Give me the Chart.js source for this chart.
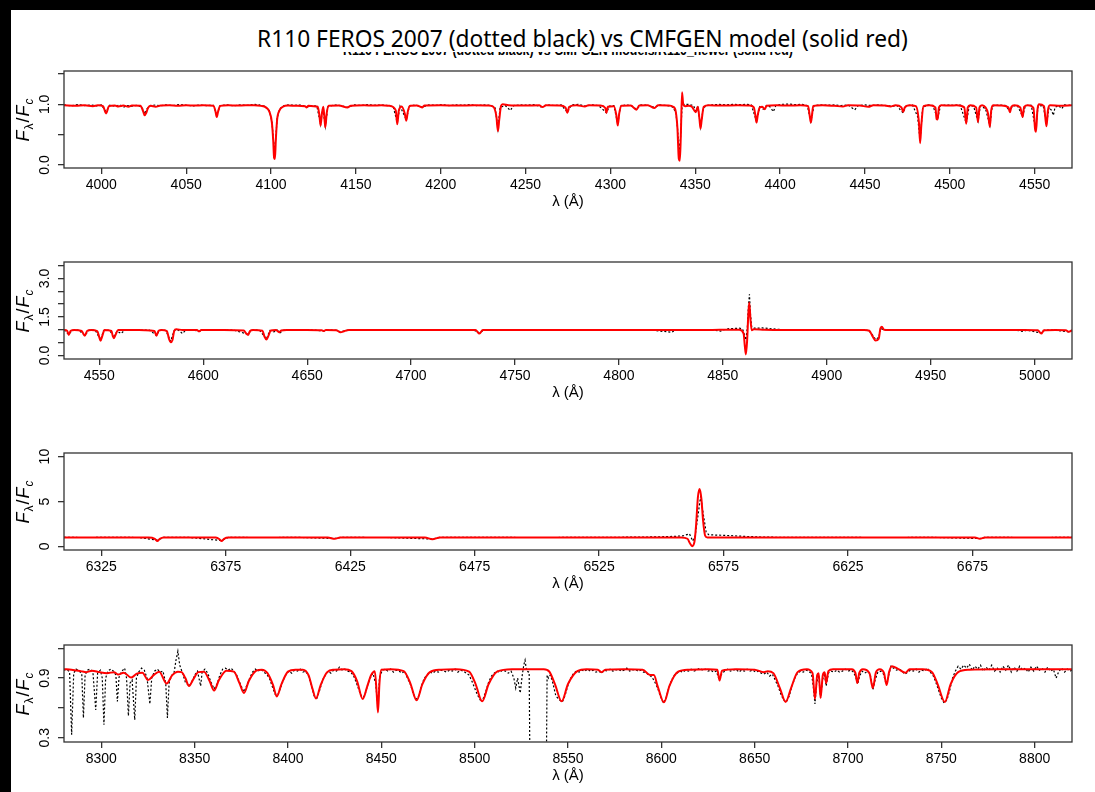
<!DOCTYPE html>
<html>
<head>
<meta charset="utf-8">
<script src="https://cdn.jsdelivr.net/npm/chart.js@4.4.0/dist/chart.umd.min.js"></script>
<style>
  html, body { margin: 0; padding: 0; }
  body { width: 1095px; height: 792px; background: #000; position: relative; overflow: hidden; }
  #page { position: absolute; left: 11px; top: 10px; width: 1084px; height: 782px; background: #fff; }
  .panel { position: absolute; left: 11px; }
  #oldTitle { position: absolute; top: 42px; left: 300px; font: bold 14px "Liberation Sans", Arial, sans-serif; line-height: 16px; white-space: nowrap; color: #000; }
  #cover { position: absolute; left: 11px; top: 10px; width: 1084px; height: 42px; background: #fff; }
  #mainTitle { position: absolute; top: 23px; left: 250px; font: 24px "Noto Sans", sans-serif; line-height: 30px; white-space: nowrap; color: #000; }
</style>
</head>
<body>
<div id="page"></div>
<div id="oldTitle">R110 FEROS 2007 (dotted black) vs CMFGEN models/R110_newer (solid red)</div>
<div id="cover"></div>
<div id="mainTitle">R110 FEROS 2007 (dotted black) vs CMFGEN model (solid red)</div>
<canvas id="p1" class="panel" width="1084" height="151" style="top:62px"></canvas>
<canvas id="p2" class="panel" width="1084" height="151" style="top:253px"></canvas>
<canvas id="p3" class="panel" width="1084" height="151" style="top:444px"></canvas>
<canvas id="p4" class="panel" width="1084" height="151" style="top:636px"></canvas>
<script>
// ---- tick values ----
const ticks1X = [4000, 4050, 4100, 4150, 4200, 4250, 4300, 4350, 4400, 4450, 4500, 4550];
const ticks2X = [4550, 4600, 4650, 4700, 4750, 4800, 4850, 4900, 4950, 5000];
const ticks3X = [6325, 6375, 6425, 6475, 6525, 6575, 6625, 6675];
const ticks4X = [8300, 8350, 8400, 8450, 8500, 8550, 8600, 8650, 8700, 8750, 8800];

const ticks1Y = [0, 0.5, 1, 1.5];
const labels1Y = ['0.0', '', '1.0', ''];
const ticks2Y = [0, 0.5, 1, 1.5, 2, 2.5, 3, 3.5];
const labels2Y = ['0.0', '', '', '1.5', '', '', '3.0', ''];
const ticks3Y = [0, 5, 10];
const labels3Y = ['0', '5', '10'];
const ticks4Y = [0.3, 0.6, 0.9, 1.2];
const labels4Y = ['0.3', '', '0.9', ''];

// ---- panel 1: 3978-4572 A ----
const model1 = [
  [3978,0.985],[3985,0.975],[3990,0.985],[3995,0.97],[3998,0.985],
  [4001,0.97],[4002.8,0.85],[4004.5,0.97],[4008,0.98],[4010,0.965],[4013,0.98],[4016,0.96],[4018,0.98],
  [4023,0.975],[4024.7,0.88],[4025.5,0.82],[4026.5,0.86],[4027.5,0.94],[4029,0.975],[4032,0.96],[4035,0.98],
  [4040,0.985],[4045,0.975],[4050,0.985],[4055,0.98],[4060,0.985],[4066,0.975],[4067.3,0.88],[4068,0.79],[4068.8,0.88],[4070,0.975],
  [4075,0.985],[4080,0.98],[4085,0.985],[4090,0.985],[4094,0.975],
  [4097,0.95],[4099,0.88],[4100.5,0.7],[4101.3,0.4],[4101.8,0.12],[4102.3,0.1],[4102.8,0.4],[4103.6,0.75],[4105,0.9],[4107,0.96],[4110,0.98],
  [4115,0.975],[4120,0.97],[4121,0.95],[4122,0.975],[4125,0.97],[4127.5,0.96],[4128.5,0.82],[4129.2,0.65],[4130,0.85],[4130.8,0.96],
  [4131.4,0.8],[4132,0.62],[4132.8,0.85],[4134,0.975],[4140,0.98],[4145,0.95],[4147,0.975],[4155,0.985],[4160,0.98],[4165,0.985],
  [4170,0.975],[4173.5,0.9],[4174.4,0.67],[4175.3,0.9],[4177,0.965],[4178.8,0.85],[4179.7,0.73],[4180.6,0.88],[4182,0.975],[4186,0.98],
  [4189,0.95],[4190.5,0.98],[4200,0.985],[4210,0.98],[4220,0.985],[4228,0.98],[4231,0.96],[4232.8,0.8],[4233.7,0.56],[4234.5,0.75],
  [4235.5,0.97],[4236.5,1.0],[4240,0.985],[4250,0.98],[4258,0.985],[4260,0.955],[4262,0.985],[4270,0.98],[4273.5,0.95],[4274.6,0.86],
  [4275.7,0.96],[4280,0.985],[4285,0.965],[4287,0.985],[4294,0.98],[4297,0.94],[4297.6,0.86],[4298.5,0.96],[4302,0.97],[4303.5,0.82],
  [4304.3,0.65],[4305.2,0.85],[4306.5,0.975],[4312,0.98],[4315.3,0.91],[4317,0.98],[4322,0.985],[4326,0.94],[4328,0.985],[4334,0.98],[4337,0.96],
  [4338.5,0.88],[4339.5,0.6],[4340.3,0.1],[4340.9,0.07],[4341.5,0.5],[4342.2,1.2],[4342.9,1.0],[4344,0.97],[4346,0.975],[4348,0.96],
  [4350.3,0.87],[4351.5,0.96],[4352.5,0.75],[4353.1,0.6],[4353.8,0.75],[4355,0.96],[4358,0.985],[4365,0.98],[4375,0.985],[4382,0.98],
  [4384.5,0.95],[4385.5,0.8],[4386.1,0.7],[4386.8,0.82],[4388,0.95],[4389.5,0.96],[4391,0.92],[4392,0.975],[4398,0.985],[4405,0.98],
  [4412,0.985],[4416.5,0.97],[4417.5,0.8],[4418.1,0.7],[4418.7,0.8],[4419.5,0.975],[4425,0.985],[4432,0.975],[4437,0.965],[4440,0.985],
  [4447,0.98],[4452,0.96],[4455,0.985],[4462,0.98],[4465,0.965],[4468,0.985],[4471.5,0.95],[4472.5,0.875],[4473.5,0.95],[4476,0.985],
  [4480,0.97],[4481.8,0.7],[4482.5,0.36],[4483.2,0.65],[4484.5,0.97],[4488,0.985],[4491.5,0.95],[4492.2,0.76],[4492.8,0.75],[4493.6,0.95],
  [4495,0.985],[4500,0.98],[4504,0.985],[4508.5,0.95],[4509.7,0.68],[4510.6,0.95],[4512,0.985],[4515.5,0.95],[4516.6,0.71],[4517.5,0.95],
  [4519,0.985],[4521,0.95],[4522.5,0.85],[4523.6,0.63],[4524.4,0.9],[4525.5,0.985],[4530,0.98],[4534.5,0.95],[4535.4,0.87],[4536.3,0.96],
  [4538,0.985],[4541.5,0.95],[4542.9,0.79],[4543.8,0.96],[4546,0.985],[4549.3,0.94],[4550.2,0.6],[4550.8,0.55],[4551.6,0.9],[4552.5,1.0],
  [4555.5,0.97],[4556.4,0.75],[4557,0.64],[4557.8,0.9],[4559,0.985],[4565,0.975],[4572,0.985]
];
const obs1 = [
  [3978,0.99],[3982,0.975],[3986,0.995],[3990,0.98],[3994,0.99],[3997,0.975],[4000,0.99],[4002.8,0.88],[4005,0.985],[4008,0.97],
  [4011,0.99],[4013,0.95],[4015,0.98],[4018,0.97],[4021,0.985],[4024,0.95],[4025.5,0.84],[4027,0.93],[4029,0.98],[4032,0.99],
  [4035,0.975],[4038,0.99],[4042,0.98],[4046,0.995],[4050,0.985],[4054,0.975],[4058,0.99],[4062,0.98],[4066,0.985],[4068,0.82],
  [4070,0.98],[4074,0.99],[4078,0.975],[4082,0.99],[4086,0.985],[4090,1.0],[4093,0.99],[4096,0.97],[4099,0.9],[4100.5,0.72],
  [4101.3,0.45],[4102,0.2],[4102.8,0.45],[4103.6,0.77],[4105,0.92],[4107,0.97],[4110,0.99],[4114,0.985],[4118,0.99],[4121,0.955],
  [4124,0.98],[4127,0.97],[4129.2,0.67],[4130.5,0.95],[4132,0.64],[4133.5,0.96],[4137,0.99],[4141,0.98],[4145,0.95],[4149,0.99],
  [4153,0.98],[4157,0.995],[4161,0.985],[4165,0.99],[4169,0.98],[4172,0.96],[4174.4,0.7],[4176,0.97],[4179.7,0.75],[4181.5,0.97],
  [4185,0.99],[4189,0.955],[4193,0.99],[4197,0.985],[4201,0.995],[4205,0.98],[4209,0.99],[4213,0.985],[4217,0.995],[4221,0.98],
  [4225,0.99],[4229,0.985],[4232,0.95],[4233.7,0.6],[4235,0.95],[4238,0.98],[4241,0.9],[4243,0.98],[4247,0.99],[4251,0.985],
  [4255,0.995],[4259,0.96],[4263,0.99],[4267,0.98],[4271,0.99],[4274.6,0.87],[4277,0.99],[4281,1.0],[4285,0.97],[4289,0.99],
  [4293,0.98],[4295,0.93],[4297.6,0.86],[4299.5,0.97],[4302,0.98],[4304.3,0.68],[4306,0.97],[4309,0.99],[4312,0.98],[4315.3,0.92],
  [4318,0.99],[4322,0.985],[4326,0.95],[4329,0.99],[4333,0.98],[4336,0.97],[4338.5,0.88],[4339.5,0.62],[4340.5,0.2],[4341.3,0.45],
  [4342.2,0.95],[4343.5,1.0],[4346,1.0],[4349,0.98],[4350.3,0.88],[4351.5,0.97],[4353.1,0.63],[4354.5,0.9],[4356,0.98],[4360,0.99],
  [4364,1.0],[4368,0.99],[4372,1.0],[4376,0.995],[4380,1.0],[4383,0.99],[4386.1,0.72],[4388,0.96],[4390,0.92],[4392,0.98],
  [4394,0.96],[4396,0.88],[4397.5,0.98],[4401,1.0],[4405,1.005],[4409,0.995],[4413,1.0],[4416,0.98],[4418.1,0.72],[4420,0.98],
  [4424,0.99],[4428,0.985],[4432,0.99],[4436,0.98],[4440,0.99],[4444,0.91],[4446,0.98],[4450,0.99],[4454,0.98],[4458,0.99],
  [4462,0.98],[4466,0.97],[4469,0.98],[4471,0.9],[4472.5,0.86],[4474,0.97],[4478,0.99],[4481,0.8],[4482.5,0.4],[4484,0.95],
  [4487,0.99],[4490,0.98],[4492.8,0.76],[4494.5,0.98],[4498,0.99],[4502,0.985],[4506,0.99],[4509.7,0.69],[4511.5,0.98],[4514,0.97],
  [4516.6,0.72],[4518,0.97],[4521,0.93],[4523.6,0.65],[4525,0.97],[4529,0.99],[4533,0.98],[4535.4,0.88],[4537,0.98],[4540,0.97],
  [4542.9,0.8],[4544.5,0.98],[4548,0.985],[4550.6,0.58],[4552,0.97],[4555,0.98],[4557,0.68],[4558.5,0.95],[4560,0.9],[4561,0.82],
  [4562,0.95],[4564,0.98],[4566,0.93],[4567.5,0.99],[4570,0.985],[4572,0.99]
];

// ---- panel 2: 4533-5018 A ----
const model2 = [
  [4533,0.99],[4534.5,0.96],[4535.3,0.8],[4536.2,0.96],[4538,0.99],[4541.5,0.95],[4543,0.77],[4544.2,0.96],[4546,0.99],[4549,0.95],
  [4550,0.7],[4550.6,0.57],[4551.4,0.75],[4552.5,0.99],[4555.8,0.95],[4556.5,0.75],[4557,0.67],[4557.8,0.8],[4559,0.99],[4565,0.99],
  [4572,0.985],[4576.5,0.95],[4577.5,0.77],[4578.5,0.96],[4580,0.99],[4582.5,0.95],[4583.5,0.65],[4584.3,0.51],[4585.2,0.6],[4586,0.95],
  [4587,1.02],[4590,0.99],[4597,0.99],[4598,0.94],[4599,0.99],[4610,0.99],[4619.5,0.97],[4620.7,0.85],[4621.6,0.8],[4622.5,0.95],
  [4624,0.99],[4628.5,0.96],[4629.5,0.72],[4630.4,0.62],[4631.3,0.75],[4632.5,0.97],[4635,0.99],[4636.5,0.9],[4637.5,0.97],[4640,0.99],
  [4650,0.99],[4657,0.98],[4658,0.95],[4659,0.99],[4664,0.98],[4666,0.9],[4668,0.95],[4670,0.99],[4680,0.99],[4700,0.99],
  [4720,0.99],[4731,0.99],[4732.9,0.85],[4734.5,0.99],[4750,0.99],[4775,0.99],[4800,0.99],[4825,0.99],[4845,0.99],[4852,1.0],
  [4858,1.0],[4860,0.85],[4860.6,0.35],[4861.1,0.04],[4861.7,0.6],[4862.2,1.5],[4862.7,2.06],[4863.3,1.4],[4863.9,0.98],[4865,1.02],
  [4870,1.0],[4880,0.99],[4900,0.99],[4918,0.99],[4920.5,0.96],[4922,0.75],[4923.5,0.58],[4925,0.65],[4925.8,1.05],[4926.5,1.12],
  [4927.5,1.0],[4930,0.99],[4950,0.99],[4975,0.99],[4995,0.99],[5001.5,0.98],[5003.2,0.85],[5004.5,0.98],[5010,0.99],[5015,0.98],
  [5016.5,0.92],[5018,0.98]
];
const obs2 = [
  [4533,0.99],[4535.3,0.82],[4537,0.98],[4540,0.99],[4543,0.78],[4545,0.98],[4548,0.99],[4550.6,0.6],[4552,0.97],[4555,0.98],
  [4557,0.7],[4558.5,0.95],[4560.5,0.85],[4562,0.97],[4566,0.99],[4570,0.98],[4574,0.99],[4577.5,0.78],[4579,0.98],[4582,0.97],
  [4584.3,0.55],[4586,0.96],[4588,0.99],[4590,0.85],[4591.5,0.98],[4595,0.99],[4598,0.94],[4600,0.99],[4605,0.98],[4610,0.99],
  [4615,0.98],[4621.6,0.82],[4623,0.98],[4627,0.99],[4630.4,0.64],[4632,0.97],[4634,0.92],[4635.5,0.99],[4637,0.88],[4638.5,0.98],
  [4643,0.99],[4648,0.98],[4653,0.99],[4658,0.95],[4660,0.99],[4664,0.98],[4666,0.92],[4668,0.95],[4670,0.99],[4680,0.98],
  [4690,0.99],[4700,0.98],[4710,0.99],[4720,0.98],[4730,0.99],[4732.9,0.87],[4735,0.99],[4745,0.98],[4755,0.99],[4765,0.98],
  [4775,0.99],[4785,0.98],[4795,0.99],[4805,0.98],[4815,0.99],[4825.5,0.9],[4827,0.99],[4835,0.98],[4845,0.99],[4849,0.95],
  [4850.5,1.0],[4853,1.04],[4856,1.05],[4858,1.06],[4859.5,1.03],[4860.4,0.8],[4861.1,0.6],[4861.8,1.1],[4862.3,1.9],[4862.8,2.38],
  [4863.3,1.6],[4863.9,1.1],[4865,1.06],[4869,1.07],[4872,1.05],[4876,1.02],[4880,1.0],[4890,0.99],[4900,0.98],[4910,0.99],
  [4920,0.98],[4922,0.8],[4923.5,0.62],[4925,0.7],[4926,1.05],[4927.5,1.0],[4930,0.99],[4940,0.98],[4950,0.99],[4960,0.98],
  [4970,0.99],[4980,0.98],[4990,0.99],[4995,0.93],[4996,0.99],[5003.2,0.87],[5005,0.99],[5010,0.98],[5016.5,0.92],[5018,0.98]
];

// ---- panel 3: 6310-6715 A ----
const model3 = [
  [6310,1.0],[6330,1.0],[6344,1.0],[6346.5,0.85],[6347.5,0.6],[6348.5,0.85],[6350,1.0],[6365,1.0],[6371,0.99],[6372.5,0.8],
  [6373.3,0.6],[6374.3,0.85],[6376,1.0],[6400,1.0],[6416,0.98],[6418.8,0.85],[6421,0.99],[6440,1.0],[6455,0.99],[6458,0.8],
  [6461,0.99],[6480,1.0],[6500,1.0],[6520,1.0],[6540,1.0],[6558,1.0],[6560.5,0.85],[6561.5,0.35],[6562.4,0.03],[6563.3,0.5],
  [6564,2.5],[6564.7,5.5],[6565.4,6.4],[6566.1,5.3],[6566.8,2.8],[6567.6,1.2],[6568.5,1.0],[6580,1.0],[6600,1.0],[6640,1.0],
  [6676,1.0],[6678,0.85],[6680,1.0],[6715,1.0]
];
const obs3 = [
  [6310,1.0],[6320,0.99],[6330,1.01],[6340,0.99],[6347.5,0.7],[6350,1.0],[6360,1.01],[6373.3,0.65],[6376,1.0],[6390,0.99],
  [6405,1.0],[6418.8,0.88],[6421,1.0],[6440,0.99],[6458,0.82],[6461,1.0],[6480,1.0],[6500,0.99],[6520,1.0],[6540,1.03],
  [6550,1.07],[6556,1.12],[6559,1.2],[6561.3,1.4],[6562.6,0.6],[6563.6,1.2],[6564.6,3.2],[6565.8,5.6],[6566.9,3.5],[6568,1.6],
  [6569,1.3],[6573,1.25],[6578,1.2],[6583,1.12],[6590,1.05],[6600,1.0],[6620,1.0],[6640,0.99],[6660,1.0],[6678,0.88],
  [6680,1.0],[6700,0.99],[6715,1.0]
];

// ---- panel 4: 8280-8820 A ----
const model4 = [
  [8280,0.99],[8284,0.985],[8289,0.97],[8292,0.96],[8295,0.975],[8299,0.96],[8303,0.95],[8307,0.96],[8309,0.935],[8312,0.955],
  [8316,0.905],[8319,0.945],[8322,0.955],[8325,0.88],[8328,0.93],[8331,0.965],[8335,0.845],[8338,0.93],[8341,0.965],[8343,0.96],
  [8345,0.9],[8347,0.82],[8349,0.88],[8352,0.96],[8355,0.965],[8358,0.87],[8360.4,0.775],[8363,0.88],[8367,0.975],[8371,0.965],
  [8374,0.85],[8376.4,0.75],[8379,0.87],[8383,0.975],[8386,0.985],[8389,0.95],[8392,0.83],[8394,0.715],[8396.5,0.84],[8400,0.965],
  [8404,0.985],[8408,0.985],[8411,0.93],[8413,0.8],[8415,0.695],[8417.5,0.83],[8421,0.96],[8425,0.985],[8430,0.99],[8434,0.97],
  [8437,0.87],[8440,0.69],[8442.5,0.82],[8444.5,0.93],[8446.5,0.97],[8447.5,0.75],[8448.2,0.555],[8449,0.85],[8450,0.985],[8455,0.99],
  [8462,0.97],[8465.5,0.85],[8468.9,0.676],[8472,0.84],[8476,0.96],[8482,0.985],[8490,0.99],[8497,0.965],[8500.5,0.84],[8504,0.666],
  [8507.5,0.84],[8512,0.965],[8520,0.99],[8530,0.99],[8537,0.99],[8540,0.965],[8543,0.84],[8546.6,0.666],[8550,0.84],[8555,0.97],
  [8560,0.99],[8566,0.985],[8568,0.96],[8570,0.985],[8580,0.99],[8590,0.985],[8594,0.93],[8596,0.93],[8598,0.82],[8601.4,0.656],
  [8604.5,0.83],[8609,0.965],[8615,0.985],[8625,0.99],[8630,0.985],[8631.2,0.876],[8632.5,0.975],[8640,0.99],[8650,0.985],[8655,0.96],
  [8657,0.97],[8660,0.95],[8663.5,0.8],[8666.6,0.66],[8669.5,0.8],[8673,0.96],[8678,0.99],[8681,0.95],[8682.3,0.69],[8683.5,0.93],
  [8684.3,0.95],[8685.3,0.7],[8686.5,0.93],[8687.5,0.96],[8688.3,0.85],[8689.5,0.97],[8692,0.99],[8702,0.99],[8704,0.95],[8705,0.85],
  [8706,0.95],[8708,0.99],[8711.5,0.95],[8713.3,0.8],[8715,0.96],[8717,0.99],[8719.3,0.95],[8720.7,0.83],[8722,0.96],[8723.5,1.02],
  [8727,0.99],[8730.9,0.955],[8733,0.99],[8740,0.99],[8745,0.96],[8748,0.84],[8751.9,0.66],[8755,0.84],[8759,0.96],[8765,0.985],
  [8780,0.99],[8800,0.99],[8820,0.99]
];
const obs4 = [
  [8280,0.98],[8281.5,0.99],[8283,0.96],[8284.1,0.33],[8285.2,0.95],[8286.5,0.99],[8288,0.97],[8289.5,0.95],[8290.4,0.5],[8291.3,0.93],
  [8292.5,0.98],[8294,0.99],[8295.5,0.96],[8297,0.58],[8298,0.95],[8299.5,0.98],[8300.5,0.9],[8301.4,0.43],[8302.3,0.9],[8303.5,0.97],
  [8305,0.99],[8306.5,0.97],[8307.8,0.93],[8308.6,0.665],[8309.5,0.91],[8311,0.97],[8312.5,1.0],[8313.5,0.9],[8314.5,0.52],[8315.4,0.85],
  [8316.5,0.88],[8317.9,0.48],[8318.8,0.9],[8320,0.96],[8321.5,1.0],[8323,0.98],[8324.5,0.9],[8326,0.64],[8327,0.9],[8328.5,0.97],
  [8330,0.99],[8331.5,0.96],[8333,0.97],[8334.5,0.85],[8335.4,0.5],[8336.3,0.85],[8337.5,0.92],[8339,0.96],[8340,1.08],[8341,1.17],
  [8342,1.03],[8343.5,0.95],[8345,0.86],[8347,0.82],[8348.5,0.86],[8350,0.93],[8351.5,0.97],[8353.2,0.82],[8354,0.96],[8355.5,0.99],
  [8357,0.95],[8358.5,0.87],[8360.4,0.79],[8362,0.84],[8363.5,0.93],[8365,0.99],[8366.5,1.0],[8368,0.98],[8369.5,1.0],[8371,0.97],
  [8372.5,0.93],[8374,0.86],[8376.4,0.76],[8378,0.83],[8379.5,0.9],[8381,0.96],[8382.5,0.99],[8384,0.97],[8385.5,0.99],[8387,0.96],
  [8388.5,0.94],[8390,0.9],[8391.5,0.82],[8393,0.74],[8394.5,0.73],[8396,0.8],[8397.5,0.88],[8399,0.94],[8400.5,0.97],[8402,0.95],
  [8403.5,0.98],[8405,0.97],[8406.5,0.99],[8408,0.96],[8409.5,0.97],[8411,0.92],[8412.5,0.83],[8414,0.72],[8415.5,0.7],[8417,0.78],
  [8418.5,0.88],[8420,0.93],[8421.5,0.97],[8423,0.95],[8424.5,0.98],[8426,0.97],[8427.5,1.01],[8429,0.98],[8430.5,0.99],[8432,0.97],
  [8433.5,0.96],[8435,0.93],[8436.5,0.86],[8438,0.78],[8439.5,0.71],[8441,0.72],[8442.5,0.82],[8444,0.9],[8445.5,0.95],[8447,0.84],
  [8448.2,0.6],[8449,0.9],[8450.5,0.98],[8452,0.99],[8453.5,0.97],[8455,0.99],[8456.5,0.96],[8458,0.98],[8459.5,0.97],[8461,0.95],
  [8462.5,0.97],[8464,0.9],[8465.5,0.84],[8467,0.75],[8468.5,0.69],[8470,0.72],[8471.5,0.82],[8473,0.9],[8474.5,0.93],[8476,0.96],
  [8477.5,0.95],[8479,0.97],[8480.5,0.96],[8482,0.98],[8483.5,0.97],[8485,0.96],[8486.5,0.98],[8488,0.97],[8489.5,0.99],[8491,0.96],
  [8492.5,0.98],[8494,0.97],[8495.5,0.95],[8497,0.93],[8498.5,0.87],[8500,0.8],[8501.5,0.73],[8503,0.68],[8504.5,0.69],[8506,0.77],
  [8507.5,0.86],[8509,0.92],[8510.5,0.95],[8512,0.97],[8513.5,0.96],[8515,0.98],[8516.5,0.97],[8518,0.95],[8519.5,0.97],[8521,0.9],
  [8522,0.8],[8523,0.9],[8524.4,0.75],[8525.5,0.93],[8526.3,1.03],[8527,1.08],[8527.8,0.97],[8529.2,0.96],[8529.6,0.0],[8538.4,0.0],
  [8538.8,0.93],[8539.5,0.9],[8540.5,0.93],[8541.5,0.88],[8542.5,0.8],[8543.5,0.72],[8544.5,0.7],[8545.5,0.68],[8547,0.66],[8548.5,0.73],
  [8550,0.83],[8551.5,0.9],[8553,0.95],[8554.5,0.97],[8556,0.96],[8557.5,0.98],[8559,0.97],[8560.5,0.99],[8562,0.97],[8563.5,0.98],
  [8565,0.96],[8566.5,0.97],[8568,0.95],[8569.5,0.98],[8571,0.97],[8572.5,0.99],[8574,0.97],[8575.5,0.98],[8577,0.99],[8578.5,0.97],
  [8580,0.98],[8581.5,1.0],[8583,0.97],[8584.5,0.98],[8586,0.99],[8587.5,0.97],[8589,0.98],[8590.5,0.96],[8592,0.95],[8593.5,0.93],
  [8595,0.91],[8596.5,0.86],[8598,0.8],[8599.5,0.72],[8601,0.65],[8602.5,0.7],[8604,0.8],[8605.5,0.88],[8607,0.93],[8608.5,0.95],
  [8610,0.97],[8611.5,0.96],[8613,0.98],[8614.5,0.97],[8616,0.99],[8617.5,0.97],[8619,0.98],[8620.5,1.0],[8622,0.98],[8623.5,0.99],
  [8625,0.97],[8626.5,0.98],[8628,0.96],[8629.5,0.97],[8631,0.88],[8632.5,0.95],[8634,0.97],[8635.5,0.99],[8637,0.97],[8638.5,0.98],
  [8640,0.99],[8641.5,0.96],[8643,0.98],[8644.5,0.97],[8646,0.99],[8647.5,0.97],[8649,0.98],[8650.5,0.96],[8652,0.97],[8653.5,0.95],
  [8655,0.94],[8656.5,0.96],[8658,0.92],[8659.5,0.94],[8661,0.88],[8662.5,0.82],[8664,0.74],[8665.5,0.68],[8667,0.66],[8668.5,0.72],
  [8670,0.82],[8671.5,0.9],[8673,0.95],[8674.5,0.97],[8676,0.96],[8677.5,0.98],[8679,0.97],[8680.5,0.94],[8681.5,0.8],[8682.3,0.64],
  [8683.2,0.85],[8684.3,0.93],[8685.3,0.7],[8686.4,0.88],[8687.3,0.95],[8688.3,0.82],[8689.5,0.95],[8691,0.97],[8692.5,0.96],[8694,0.98],
  [8695.5,0.96],[8697,0.97],[8698.5,0.99],[8700,0.97],[8701.5,0.98],[8703,0.96],[8704.3,0.9],[8705.2,0.84],[8706.2,0.92],[8707.5,0.97],
  [8709,0.95],[8710.5,0.97],[8712,0.93],[8713.3,0.78],[8714.5,0.88],[8716,0.96],[8717.5,0.97],[8719,0.94],[8720.5,0.84],[8721.8,0.93],
  [8723,1.02],[8724.5,1.0],[8726,0.98],[8727.5,0.99],[8729,0.97],[8730.5,0.94],[8732,0.96],[8733.5,0.98],[8735,0.97],[8736.5,0.99],
  [8738,0.96],[8739.5,0.98],[8741,0.97],[8742.5,1.0],[8744,0.96],[8745.5,0.93],[8747,0.86],[8748.5,0.78],[8750,0.7],[8751.5,0.65],
  [8753,0.68],[8754.5,0.78],[8756,0.9],[8757.5,0.97],[8759,1.02],[8760.5,0.99],[8762,1.03],[8763.5,1.0],[8765,1.04],[8766.5,0.98],
  [8768,1.02],[8769.5,0.99],[8771,1.03],[8772.5,0.97],[8774,1.01],[8775.5,0.98],[8777,1.03],[8778.5,0.97],[8780,1.0],[8781.5,0.96],
  [8783,1.02],[8784.5,0.98],[8786,1.03],[8787.5,0.96],[8789,1.01],[8790.5,0.97],[8792,1.02],[8793.5,0.98],[8795,1.0],[8796.5,0.96],
  [8798,1.01],[8799.5,0.97],[8801,1.02],[8802.5,0.98],[8804,1.0],[8805.5,0.96],[8807,1.01],[8808.5,0.97],[8810,0.99],[8811.5,0.9],
  [8813,0.97],[8814.5,1.0],[8816,0.96],[8817.5,0.99],[8819,0.97],[8820,0.98]
];

// ---- titles: fit to the widths seen in the picture ----
function fitText(id, centerX, width) {
  const el = document.getElementById(id);
  const natural = el.offsetWidth;
  el.style.left = (centerX - width / 2) + 'px';
  el.style.transformOrigin = '0 0';
  el.style.transform = 'scaleX(' + (width / natural) + ')';
}
fitText('oldTitle', 568, 450);
fitText('mainTitle', 582.5, 651);

Chart.defaults.font.family = '"Liberation Sans", Arial, sans-serif';
Chart.defaults.font.size = 14;
Chart.defaults.color = '#000';

// R-like box, rotated y tick labels and the F_lambda/F_c axis title
const rAxisPlugin = {
  id: 'rAxis',
  afterDatasetsDraw(chart) {
    const a = chart.chartArea;
    const ctx = chart.ctx;
    ctx.save();
    ctx.strokeStyle = '#333';
    ctx.lineWidth = 1.3;
    ctx.strokeRect(a.left, a.top, a.right - a.left, a.bottom - a.top);
    ctx.restore();
  },
  afterDraw(chart, args, opts) {
    const ctx = chart.ctx;
    const ys = chart.scales.y;
    const a = chart.chartArea;
    ctx.save();
    ctx.fillStyle = '#000';
    ctx.font = '14px "Liberation Sans", Arial, sans-serif';
    ctx.textAlign = 'center';
    ctx.textBaseline = 'alphabetic';
    opts.values.forEach((v, i) => {
      const label = opts.labels[i];
      if (!label) return;
      ctx.save();
      ctx.translate(a.left - 15, ys.getPixelForValue(v));
      ctx.rotate(-Math.PI / 2);
      ctx.fillText(label, 0, 0);
      ctx.restore();
    });

    // F_lambda / F_c
    const parts = [
      { t: 'F', f: 'italic 18px "Liberation Sans", Arial, sans-serif', dy: 0 },
      { t: 'λ', f: '12px "Liberation Sans", Arial, sans-serif', dy: 4 },
      { t: '/', f: '18px "Liberation Sans", Arial, sans-serif', dy: 0 },
      { t: 'F', f: 'italic 18px "Liberation Sans", Arial, sans-serif', dy: 0 },
      { t: 'c', f: 'italic 12px "Liberation Sans", Arial, sans-serif', dy: 4 }
    ];
    let total = 0;
    parts.forEach(p => { ctx.font = p.f; p.w = ctx.measureText(p.t).width + 1; total += p.w; });
    ctx.translate(18, (a.top + a.bottom) / 2);
    ctx.rotate(-Math.PI / 2);
    ctx.textAlign = 'left';
    let x = -total / 2;
    parts.forEach(p => { ctx.font = p.f; ctx.fillText(p.t, x, p.dy); x += p.w; });
    ctx.restore();
  }
};

function makePanel(id, xMin, xMax, yMin, yMax, xTicks, yTicks, yLabels, model, obs) {
  new Chart(document.getElementById(id), {
    type: 'line',
    data: {
      datasets: [{
        data: model.map(p => ({ x: p[0], y: p[1] })),
        borderColor: '#ff0000',
        borderWidth: 2,
        pointRadius: 0,
        cubicInterpolationMode: 'monotone',
        order: 0
      }, {
        data: obs.map(p => ({ x: p[0], y: p[1] })),
        borderColor: '#000',
        borderWidth: 1.2,
        borderDash: [2, 2],
        pointRadius: 0,
        order: 1
      }]
    },
    options: {
      responsive: false,
      animation: false,
      events: [],
      layout: { padding: { top: 9, right: 23, bottom: 0, left: 0 } },
      plugins: {
        legend: { display: false },
        tooltip: { enabled: false },
        rAxis: { values: yTicks, labels: yLabels }
      },
      scales: {
        x: {
          type: 'linear',
          min: xMin,
          max: xMax,
          afterBuildTicks: s => { s.ticks = xTicks.map(v => ({ value: v })); },
          afterFit: s => { s.height = 45; },
          ticks: { callback: v => String(v), autoSkip: false, maxRotation: 0, padding: 3, color: '#000' },
          grid: { drawOnChartArea: false, tickLength: 6, color: '#333', lineWidth: 1.3 },
          border: { display: false },
          title: { display: true, text: 'λ (Å)', font: { size: 15 }, color: '#000', padding: { top: 0, bottom: 2 } }
        },
        y: {
          type: 'linear',
          min: yMin,
          max: yMax,
          afterBuildTicks: s => { s.ticks = yTicks.map(v => ({ value: v })); },
          afterFit: s => { s.width = 53; },
          ticks: { display: false },
          grid: { drawOnChartArea: false, tickLength: 6, color: '#333', lineWidth: 1.3 },
          border: { display: false }
        }
      }
    },
    plugins: [rAxisPlugin]
  });
}

makePanel('p1', 3978, 4572, -0.05, 1.55, ticks1X, ticks1Y, labels1Y, model1, obs1);
makePanel('p2', 4533, 5018, -0.14, 3.64, ticks2X, ticks2Y, labels2Y, model2, obs2);
makePanel('p3', 6310, 6715, -0.4, 10.4, ticks3X, ticks3Y, labels3Y, model3, obs3);
makePanel('p4', 8280, 8820, 0.257, 1.233, ticks4X, ticks4Y, labels4Y, model4, obs4);
</script>
</body>
</html>
